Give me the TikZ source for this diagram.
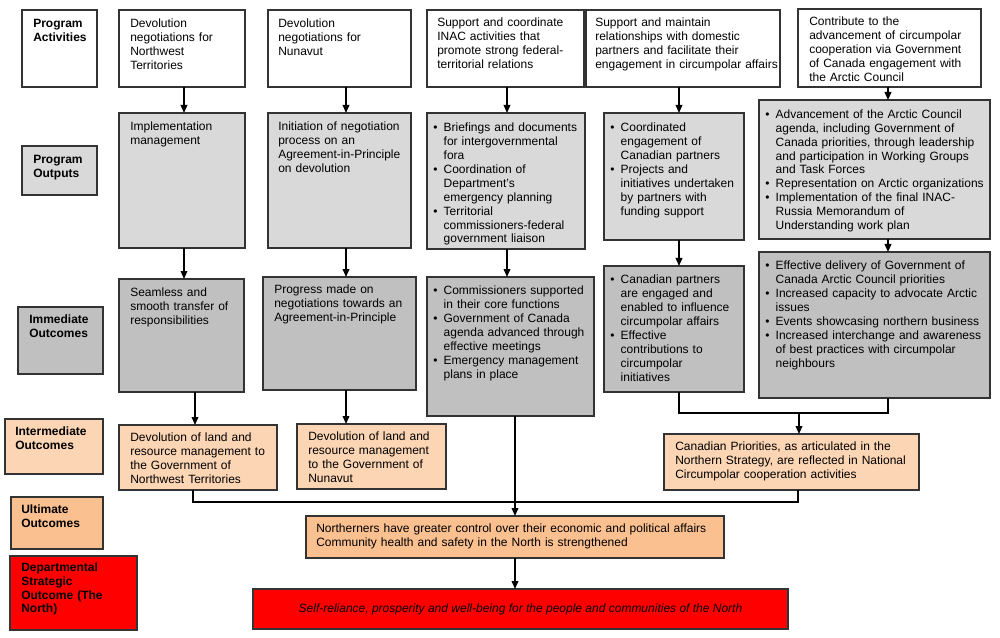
\documentclass[tikz,border=0pt]{standalone}
\usepackage{fontspec}
\setmainfont{Liberation Sans}
\usetikzlibrary{fit,arrows.meta,calc}
\definecolor{outg}{HTML}{D9D9D9}
\definecolor{immg}{HTML}{C0C0C0}
\definecolor{intp}{HTML}{FCD5B4}
\definecolor{ultp}{HTML}{FAC090}
\definecolor{bord}{HTML}{333333}
\newlength{\bulw}\setlength{\bulw}{7.8pt}
\newcommand{\itmf}{\noindent\hangindent=\bulw\hangafter=1\makebox[\bulw][l]{\textbullet}}
\newcommand{\itm}{\par\noindent\hangindent=\bulw\hangafter=1\makebox[\bulw][l]{\textbullet}}
\newcommand{\Bx}[6]{\node[#2, fit={(#3,#4) (#5,#6)}] (#1) {};}
\tikzset{
  box/.style={draw=bord, line width=1pt, inner sep=0pt, outer sep=0pt},
  actbox/.style={box, fill=white},
  outbox/.style={box, fill=outg},
  immbox/.style={box, fill=immg},
  intbox/.style={box, fill=intp},
  ultbox/.style={box, fill=ultp},
  redbox/.style={box, fill=red},
  txt/.style={anchor=north west, inner sep=0pt, align=left, text width=300pt,
    font=\fontsize{9}{10.4}\selectfont},
  lbl/.style={txt, font=\fontsize{9}{10.2}\selectfont\bfseries},
  conn/.style={draw=black, line width=1pt},
  arr/.style={conn, -{Triangle[length=6pt,width=5pt]}},
}
\begin{document}
\begin{tikzpicture}[x=0.75pt, y=-0.75pt]
\fill[white] (0,0) rectangle (1000,638);
\useasboundingbox (0,0) rectangle (1000,638);

% ---- row labels
\Bx{la}{actbox}{22}{10}{97}{87}
\node[lbl] (la-t) at ($(la.north west)+(11,9)$) {Program\\Activities};
\Bx{lo}{outbox}{22}{146}{97}{195}
\node[lbl] (lo-t) at ($(lo.north west)+(11,9)$) {Program\\Outputs};
\Bx{li}{immbox}{18}{307}{103}{374}
\node[lbl] (li-t) at ($(li.north west)+(11,8)$) {Immediate\\Outcomes};
\Bx{lm}{intbox}{5}{419}{103}{474}
\node[lbl] (lm-t) at ($(lm.north west)+(10,8)$) {Intermediate\\Outcomes};
\Bx{lu}{ultbox}{11}{497}{103}{549}
\node[lbl] (lu-t) at ($(lu.north west)+(10,8)$) {Ultimate\\Outcomes};
\Bx{ls}{redbox}{10}{556}{137}{630}
\node[lbl] (ls-t) at ($(ls.north west)+(11,7)$) {Departmental\\Strategic\\Outcome (The\\North)};

% ---- program activities
\Bx{a1}{actbox}{119}{10}{245}{87}
\node[txt] (a1-t) at ($(a1.north west)+(11,9)$) {Devolution\\negotiations for\\Northwest\\Territories};
\Bx{a2}{actbox}{268}{10}{411}{87}
\node[txt] (a2-t) at ($(a2.north west)+(10,9)$) {Devolution\\negotiations for\\Nunavut};
\Bx{a3}{actbox}{427}{10}{584}{87}
\node[txt] (a3-t) at ($(a3.north west)+(10,8)$) {Support and coordinate\\INAC activities that\\promote strong federal-\\territorial relations};
\Bx{a4}{actbox}{586}{10}{780}{87}
\node[txt] (a4-t) at ($(a4.north west)+(9,8)$) {Support and maintain\\relationships with domestic\\partners and facilitate their\\engagement in circumpolar affairs};
\Bx{a5}{actbox}{798}{9}{981}{87}
\node[txt] (a5-t) at ($(a5.north west)+(11,8)$) {Contribute to the\\advancement of circumpolar\\cooperation via Government\\of Canada engagement with\\the Arctic Council};

% ---- program outputs
\Bx{o1}{outbox}{119}{113}{245}{248}
\node[txt] (o1-t) at ($(o1.north west)+(11,9)$) {Implementation\\management};
\Bx{o2}{outbox}{268}{113}{411}{248}
\node[txt] (o2-t) at ($(o2.north west)+(10,9)$) {Initiation of negotiation\\process on an\\Agreement-in-Principle\\on devolution};
\Bx{o3}{outbox}{427}{113}{585}{249}
\node[txt] (o3-t) at ($(o3.north west)+(6,10)$) {\itmf Briefings and documents\newline for intergovernmental\newline fora\itm Coordination of\newline Department's\newline emergency planning\itm Territorial\newline commissioners-federal\newline government liaison\par};
\Bx{o4}{outbox}{604}{113}{744}{240}
\node[txt] (o4-t) at ($(o4.north west)+(6,10)$) {\itmf Coordinated\newline engagement of\newline Canadian partners\itm Projects and\newline initiatives undertaken\newline by partners with\newline funding support\par};
\Bx{o5}{outbox}{759}{100}{990}{239}
\node[txt] (o5-t) at ($(o5.north west)+(6,9.5)$) {\itmf Advancement of the Arctic Council\newline agenda, including Government of\newline Canada priorities, through leadership\newline and participation in Working Groups\newline and Task Forces\itm Representation on Arctic organizations\itm Implementation of the final INAC-\newline Russia Memorandum of\newline Understanding work plan\par};

% ---- immediate outcomes
\Bx{i1}{immbox}{119}{279}{244}{392}
\node[txt] (i1-t) at ($(i1.north west)+(11,9)$) {Seamless and\\smooth transfer of\\responsibilities};
\Bx{i2}{immbox}{263}{277}{416}{390}
\node[txt] (i2-t) at ($(i2.north west)+(11,8)$) {Progress made on\\negotiations towards an\\Agreement-in-Principle};
\Bx{i3}{immbox}{427}{277}{594}{416}
\node[txt] (i3-t) at ($(i3.north west)+(6,9)$) {\itmf Commissioners supported\newline in their core functions\itm Government of Canada\newline agenda advanced through\newline effective meetings\itm Emergency management\newline plans in place\par};
\Bx{i4}{immbox}{604}{266}{744}{392}
\node[txt] (i4-t) at ($(i4.north west)+(6,9)$) {\itmf Canadian partners\newline are engaged and\newline enabled to influence\newline circumpolar affairs\itm Effective\newline contributions to\newline circumpolar\newline initiatives\par};
\Bx{i5}{immbox}{759}{252}{990}{398}
\node[txt] (i5-t) at ($(i5.north west)+(6,9)$) {\itmf Effective delivery of Government of\newline Canada Arctic Council priorities\itm Increased capacity to advocate Arctic\newline issues\itm Events showcasing northern business\itm Increased interchange and awareness\newline of best practices with circumpolar\newline neighbours\par};

% ---- intermediate outcomes
\Bx{m1}{intbox}{119}{425}{277}{490}
\node[txt] (m1-t) at ($(m1.north west)+(11,8)$) {Devolution of land and\\resource management to\\the Government of\\Northwest Territories};
\Bx{m2}{intbox}{297}{424}{446}{489}
\node[txt] (m2-t) at ($(m2.north west)+(11,8)$) {Devolution of land and\\resource management\\to the Government of\\Nunavut};
\Bx{m5}{intbox}{664}{434}{919}{490}
\node[txt] (m5-t) at ($(m5.north west)+(11,8)$) {Canadian Priorities, as articulated in the\\Northern Strategy, are reflected in National\\Circumpolar cooperation activities};

% ---- ultimate outcome and strategic outcome
\Bx{u}{ultbox}{306}{516}{724}{558}
\node[txt] (u-t) at ($(u.north west)+(10,8)$) {Northerners have greater control over their economic and political affairs\\Community health and safety in the North is strengthened};
\Bx{s}{redbox}{253}{589}{788}{629}
\node[font=\fontsize{9}{10.4}\selectfont\itshape, inner sep=0pt] (s-t) at (s.center) {Self-reliance, prosperity and well-being for the people and communities of the North};

% ---- connector columns
\coordinate (c1) at (184,0);
\coordinate (c1b) at (195,0);
\coordinate (c2) at (346,0);
\coordinate (c3) at (507,0);
\coordinate (c3b) at (515,0);
\coordinate (c4) at (679,0);
\coordinate (c5) at (888,0);
\coordinate (cL) at (193,0);
\coordinate (cR) at (798,0);
\coordinate (j45) at (799,413);
\coordinate (jb) at (515,502);

% ---- connectors
\draw[arr] (a1.south -| c1) -- (o1.north -| c1);
\draw[arr] (o1.south -| c1) -- (i1.north -| c1);
\draw[arr] (i1.south -| c1b) -- (m1.north -| c1b);
\draw[arr] (a2.south -| c2) -- (o2.north -| c2);
\draw[arr] (o2.south -| c2) -- (i2.north -| c2);
\draw[arr] (i2.south -| c2) -- (m2.north -| c2);
\draw[arr] (a3.south -| c3) -- (o3.north -| c3);
\draw[arr] (o3.south -| c3) -- (i3.north -| c3);
\draw[arr] (i3.south -| c3b) -- (u.north -| c3b);
\draw[arr] (a4.south -| c4) -- (o4.north -| c4);
\draw[arr] (o4.south -| c4) -- (i4.north -| c4);
\draw[arr] (a5.south -| c5) -- (o5.north -| c5);
\draw[arr] (o5.south -| c5) -- (i5.north -| c5);
\draw[conn] (i4.south -| c4) |- (c5 |- j45) -- (i5.south -| c5);
\draw[arr] (j45) -- (m5.north -| j45);
\draw[conn] (m1.south -| cL) |- (cR |- jb) -- (m5.south -| cR);
\draw[arr] (u.south -| c3b) -- (s.north -| c3b);
\end{tikzpicture}
\end{document}
